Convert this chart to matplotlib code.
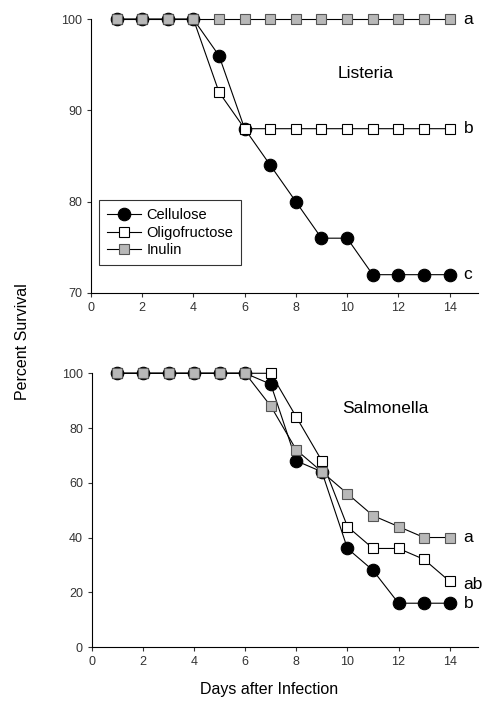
import matplotlib
matplotlib.use("Agg")
import matplotlib.pyplot as plt

plt.rcParams["font.family"] = ["Liberation Sans", "DejaVu Sans"]

# Days after infection
days = list(range(1, 15))

# Listeria survival (%)
lis_cellulose = [100, 100, 100, 100, 96, 88, 84, 80, 76, 76, 72, 72, 72, 72]
lis_oligo = [100, 100, 100, 100, 92, 88, 88, 88, 88, 88, 88, 88, 88, 88]
lis_inulin = [100] * 14
lis_letters = ["c", "b", "a"]

# Salmonella survival (%)
sal_cellulose = [100, 100, 100, 100, 100, 100, 96, 68, 64, 36, 28, 16, 16, 16]
sal_oligo = [100, 100, 100, 100, 100, 100, 100, 84, 68, 44, 36, 36, 32, 24]
sal_inulin = [100, 100, 100, 100, 100, 100, 88, 72, 64, 56, 48, 44, 40, 40]
sal_letters = ["b", "ab", "a"]

names = ["Cellulose", "Oligofructose", "Inulin"]
styles = [
    dict(marker="o", markersize=9, markerfacecolor="black", markeredgecolor="black"),
    dict(marker="s", markersize=7.5, markerfacecolor="white", markeredgecolor="black"),
    dict(marker="s", markersize=7.5, markerfacecolor="#b8b8b8", markeredgecolor="#555555"),
]

fig = plt.figure(figsize=(4.89, 7.11), dpi=100)
ax1 = fig.add_axes([0.186, 0.588, 0.791, 0.385])
ax2 = fig.add_axes([0.188, 0.090, 0.789, 0.385])


def draw(ax, series, letters, letter_y, ylim, yticks, title, title_xy):
    for vals, name, st in zip(series, names, styles):
        ax.plot(days, vals, color="black", linewidth=0.8, label=name,
                clip_on=False, markeredgewidth=0.8, **st)
    ax.set_xlim(0, 15.1)
    ax.set_ylim(*ylim)
    ax.set_xticks(range(0, 15, 2))
    ax.set_yticks(yticks)
    for s in ["top", "right"]:
        ax.spines[s].set_visible(False)
    for s in ["left", "bottom"]:
        ax.spines[s].set_linewidth(0.8)
    ax.tick_params(direction="out", length=3, width=0.8, labelsize=9,
                   colors="#333333")
    for lab, y in zip(letters, letter_y):
        ax.text(14.55, y, lab, ha="left", va="center", fontsize=12.5)
    ax.text(title_xy[0], title_xy[1], title, ha="center", va="center",
            fontsize=12.5, transform=ax.transAxes)


draw(ax1, [lis_cellulose, lis_oligo, lis_inulin], lis_letters,
     [lis_cellulose[-1], lis_oligo[-1], lis_inulin[-1]],
     (70, 100), [70, 80, 90, 100], "Listeria", (0.71, 0.80))
draw(ax2, [sal_cellulose, sal_oligo, sal_inulin], sal_letters,
     [sal_cellulose[-1], sal_oligo[-1] - 1, sal_inulin[-1]],
     (0, 100), [0, 20, 40, 60, 80, 100], "Salmonella", (0.76, 0.87))

leg = ax1.legend(loc="upper left", bbox_to_anchor=(0.01, 0.355), fontsize=10.5,
                 frameon=True, fancybox=False, edgecolor="black",
                 handlelength=2.3, handletextpad=0.4, borderpad=0.55,
                 borderaxespad=0.3, labelspacing=0.25)
leg.get_frame().set_linewidth(0.8)

fig.text(0.045, 0.52, "Percent Survival", rotation=90, ha="center",
         va="center", fontsize=11.5)
fig.text(0.55, 0.03, "Days after Infection", ha="center", va="center",
         fontsize=11.5)

fig.savefig("out.png", dpi=100)
